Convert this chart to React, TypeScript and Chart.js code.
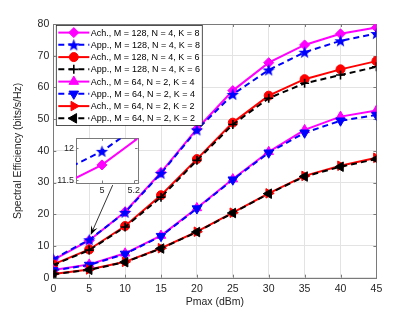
import React, { useEffect, useRef } from 'react';
import { Chart, registerables } from 'chart.js';
import { drawPoint } from 'chart.js/helpers';

Chart.register(...registerables);

// ---------------- data ----------------
const pmax = [0, 5, 10, 15, 20, 25, 30, 35, 40, 45];
const achM128K8 = [5.6, 11.74, 20.8, 33.2, 46.9, 59.0, 67.8, 73.4, 76.9, 78.9];
const appM128K8 = [5.9, 11.95, 20.6, 32.9, 46.6, 57.8, 65.5, 71.1, 74.7, 77.0];
const achM128K6 = [4.2, 8.9, 16.3, 26.0, 37.4, 48.9, 57.4, 62.6, 65.7, 68.3];
const appM128K6 = [4.0, 8.7, 16.0, 25.4, 37.0, 48.3, 56.6, 61.3, 63.9, 66.5];
const achM64K4 = [2.4, 4.2, 7.7, 13.3, 22.0, 31.1, 39.7, 46.6, 50.8, 52.7];
const appM64K4 = [2.3, 4.0, 7.5, 13.1, 21.8, 30.9, 39.4, 45.7, 49.5, 51.3];
const achM64K2 = [1.2, 2.6, 5.0, 9.3, 14.5, 20.5, 26.6, 32.1, 35.3, 37.8];
const appM64K2 = [1.1, 2.5, 4.9, 9.2, 14.4, 20.4, 26.5, 31.9, 35.0, 37.4];

const seriesLabels = [
  'Ach., M = 128, N = 4, K = 8',
  'App., M = 128, N = 4, K = 8',
  'Ach., M = 128, N = 4, K = 6',
  'App., M = 128, N = 4, K = 6',
  'Ach., M = 64, N = 2, K = 4',
  'App., M = 64, N = 2, K = 4',
  'Ach., M = 64, N = 2, K = 2',
  'App., M = 64, N = 2, K = 2',
];

const xTicks = [0, 5, 10, 15, 20, 25, 30, 35, 40, 45];
const yTicks = [0, 10, 20, 30, 40, 50, 60, 70, 80];
const insetXTicks = [5, 5.2];
const insetYTicks = [11.5, 12];
const insetXRange = [4.836, 5.225];
const insetYRange = [11.46, 12.15];
const arrowFrom = [8.27, 29.2];
const arrowTo = [5.21, 13.5];

const xTitle = 'Pmax (dBm)';
const yTitle = 'Spectral Efficiency (bits/s/Hz)';

// ---------------- styling ----------------
const FONT = '"Liberation Sans", Arial, Helvetica, sans-serif';
const TEXT = '#262626';
const GRID = '#e3e3e3';
const FRAME = '#7a7a7a';

function makeStar(r: number, color: string): HTMLCanvasElement {
  const s = Math.ceil(r * 2 + 2);
  const c = document.createElement('canvas');
  c.width = s;
  c.height = s;
  const ctx = c.getContext('2d')!;
  ctx.fillStyle = color;
  ctx.beginPath();
  for (let i = 0; i < 10; i++) {
    const rad = i % 2 === 0 ? r : r * 0.42;
    const a = -Math.PI / 2 + (i * Math.PI) / 5;
    const px = s / 2 + rad * Math.cos(a);
    const py = s / 2 + 0.6 + rad * Math.sin(a);
    if (i === 0) ctx.moveTo(px, py);
    else ctx.lineTo(px, py);
  }
  ctx.closePath();
  ctx.fill();
  return c;
}

type Style = {
  color: string;
  dash: number[];
  point: any;
  radius: number;
  rotation: number;
  pbw: number;
};

function buildStyles(): Style[] {
  const star = makeStar(6.5, '#0000ff');
  return [
    { color: '#ff00ff', dash: [], point: 'rectRot', radius: 5, rotation: 0, pbw: 1 },
    { color: '#0000ff', dash: [6, 4], point: star, radius: 6, rotation: 0, pbw: 1 },
    { color: '#ff0000', dash: [], point: 'circle', radius: 4.5, rotation: 0, pbw: 1 },
    { color: '#000000', dash: [6, 4], point: 'cross', radius: 4.5, rotation: 0, pbw: 1.6 },
    { color: '#ff00ff', dash: [], point: 'triangle', radius: 5.5, rotation: 0, pbw: 1 },
    { color: '#0000ff', dash: [6, 4], point: 'triangle', radius: 5.5, rotation: 180, pbw: 1 },
    { color: '#ff0000', dash: [], point: 'triangle', radius: 5.5, rotation: 90, pbw: 1 },
    { color: '#000000', dash: [6, 4], point: 'triangle', radius: 5.5, rotation: 270, pbw: 1 },
  ];
}

function makeDataset(label: string, ys: number[], st: Style, idx: number, clip?: number) {
  const ds: any = {
    label,
    data: pmax.map((x, i) => ({ x, y: ys[i] })),
    borderColor: st.color,
    backgroundColor: st.color,
    borderWidth: 2,
    borderDash: st.dash,
    pointStyle: st.point,
    pointRadius: st.radius,
    pointRotation: st.rotation,
    pointBorderWidth: st.pbw,
    pointBorderColor: st.color,
    pointBackgroundColor: st.color,
    tension: 0,
    fill: false,
    order: -idx,
  };
  if (clip !== undefined) ds.clip = clip;
  return ds;
}

function framePlugin(id: string, tickLen: number) {
  return {
    id,
    beforeDatasetsDraw(chart: any) {
      const { ctx, chartArea: a, scales } = chart;
      ctx.save();
      ctx.strokeStyle = FRAME;
      ctx.lineWidth = 1;
      ctx.beginPath();
      scales.x.ticks.forEach((t: any) => {
        const px = Math.round(scales.x.getPixelForValue(t.value)) + 0.5;
        ctx.moveTo(px, a.bottom);
        ctx.lineTo(px, a.bottom - tickLen);
        ctx.moveTo(px, a.top);
        ctx.lineTo(px, a.top + tickLen);
      });
      scales.y.ticks.forEach((t: any) => {
        const py = Math.round(scales.y.getPixelForValue(t.value)) + 0.5;
        ctx.moveTo(a.left, py);
        ctx.lineTo(a.left + tickLen, py);
        ctx.moveTo(a.right, py);
        ctx.lineTo(a.right - tickLen, py);
      });
      ctx.stroke();
      ctx.strokeRect(
        Math.round(a.left) + 0.5,
        Math.round(a.top) + 0.5,
        Math.round(a.right) - Math.round(a.left),
        Math.round(a.bottom) - Math.round(a.top)
      );
      ctx.restore();
    },
  };
}

function legendPlugin(styles: Style[]) {
  return {
    id: 'matlabLegend',
    afterDraw(chart: any) {
      const { ctx, chartArea: a } = chart;
      const left = a.left + 2.5;
      const top = a.top + 1;
      const w = 146;
      const rowH = 12.25;
      const h = rowH * seriesLabels.length + 2;
      ctx.save();
      ctx.fillStyle = '#ffffff';
      ctx.fillRect(left, top, w, h);
      ctx.strokeStyle = '#262626';
      ctx.lineWidth = 0.8;
      ctx.strokeRect(left + 0.5, top + 0.5, w, h);
      ctx.font = `9px ${FONT}`;
      ctx.textBaseline = 'middle';
      ctx.textAlign = 'left';
      seriesLabels.forEach((lab, i) => {
        const st = styles[i];
        const cy = top + 7.6 + i * rowH;
        const x0 = left + 2.5;
        const x1 = left + 33.5;
        ctx.strokeStyle = st.color;
        ctx.lineWidth = 2;
        ctx.setLineDash(st.dash);
        ctx.beginPath();
        ctx.moveTo(x0, cy);
        ctx.lineTo(x1, cy);
        ctx.stroke();
        ctx.setLineDash([]);
        ctx.fillStyle = st.color;
        ctx.strokeStyle = st.color;
        ctx.lineWidth = st.pbw;
        drawPoint(ctx, { pointStyle: st.point, rotation: st.rotation, radius: st.radius, borderWidth: st.pbw } as any, (x0 + x1) / 2, cy);
        ctx.fillStyle = '#000000';
        ctx.fillText(lab, x1 + 1.5, cy + 0.5);
      });
      ctx.restore();
    },
  };
}

const arrowPlugin = {
  id: 'arrow',
  afterDraw(chart: any) {
    const { ctx, scales } = chart;
    const x1 = scales.x.getPixelForValue(arrowFrom[0]);
    const y1 = scales.y.getPixelForValue(arrowFrom[1]);
    const x2 = scales.x.getPixelForValue(arrowTo[0]);
    const y2 = scales.y.getPixelForValue(arrowTo[1]);
    const ang = Math.atan2(y2 - y1, x2 - x1);
    const len = 9;
    const hw = 3.5;
    ctx.save();
    ctx.strokeStyle = '#000';
    ctx.fillStyle = '#000';
    ctx.lineWidth = 0.8;
    ctx.beginPath();
    ctx.moveTo(x1, y1);
    ctx.lineTo(x2 - Math.cos(ang) * 4, y2 - Math.sin(ang) * 4);
    ctx.stroke();
    const bx = x2 - Math.cos(ang) * len;
    const by = y2 - Math.sin(ang) * len;
    const mx = x2 - Math.cos(ang) * len * 0.6;
    const my = y2 - Math.sin(ang) * len * 0.6;
    ctx.beginPath();
    ctx.moveTo(x2, y2);
    ctx.lineTo(bx + Math.sin(ang) * hw, by - Math.cos(ang) * hw);
    ctx.lineTo(mx, my);
    ctx.lineTo(bx - Math.sin(ang) * hw, by + Math.cos(ang) * hw);
    ctx.closePath();
    ctx.fill();
    ctx.restore();
  },
};

const whiteArea = {
  id: 'whiteArea',
  beforeDraw(chart: any) {
    const { ctx, chartArea: a } = chart;
    ctx.save();
    ctx.fillStyle = '#ffffff';
    ctx.fillRect(a.left, a.top, a.right - a.left, a.bottom - a.top);
    ctx.restore();
  },
};

// inset layout
const INSET = { left: 53.7, top: 131.3, yw: 22, xh: 13, padR: 14, padT: 6, w: 61.6, h: 46 };

export default function App() {
  const mainRef = useRef<HTMLCanvasElement>(null);
  const insetRef = useRef<HTMLCanvasElement>(null);

  useEffect(() => {
    const styles = buildStyles();
    const allSeries = [achM128K8, appM128K8, achM128K6, appM128K6, achM64K4, appM64K4, achM64K2, appM64K2];

    const main = new Chart(mainRef.current!, {
      type: 'line',
      data: {
        datasets: allSeries.map((ys, i) => makeDataset(seriesLabels[i], ys, styles[i], i)),
      },
      options: {
        animation: false,
        responsive: true,
        maintainAspectRatio: false,
        devicePixelRatio: 1,
        layout: { padding: { left: 12, top: 24, right: 38.6, bottom: 4 } },
        plugins: { legend: { display: false }, tooltip: { enabled: false } },
        scales: {
          x: {
            type: 'linear',
            min: 0,
            max: 45,
            afterBuildTicks: (s: any) => { s.ticks = xTicks.map((v) => ({ value: v })); },
            afterFit: (s: any) => { s.height = 30.3; },
            ticks: { color: TEXT, font: { family: FONT, size: 10.5 }, padding: 5, maxRotation: 0, callback: (v: any) => String(v) },
            grid: { color: GRID, drawTicks: false, lineWidth: 1 },
            border: { display: false },
            title: { display: true, text: xTitle, color: TEXT, font: { family: FONT, size: 10.5 }, padding: { top: 0, bottom: 0 } },
          },
          y: {
            type: 'linear',
            min: 0,
            max: 80,
            afterBuildTicks: (s: any) => { s.ticks = yTicks.map((v) => ({ value: v })); },
            afterFit: (s: any) => { s.width = 41.3; },
            ticks: { color: TEXT, font: { family: FONT, size: 10.5 }, padding: 4, callback: (v: any) => String(v) },
            grid: { color: GRID, drawTicks: false, lineWidth: 1 },
            border: { display: false },
            title: { display: true, text: yTitle, color: TEXT, font: { family: FONT, size: 10.5 }, padding: { top: 0, bottom: 0 } },
          },
        },
      } as any,
      plugins: [framePlugin('frameMain', 3), legendPlugin(styles), arrowPlugin],
    });

    const inset = new Chart(insetRef.current!, {
      type: 'line',
      data: {
        datasets: [
          makeDataset(seriesLabels[0], achM128K8, styles[0], 0, 0),
          makeDataset(seriesLabels[1], appM128K8, styles[1], 1, 0),
        ],
      },
      options: {
        animation: false,
        responsive: true,
        maintainAspectRatio: false,
        devicePixelRatio: 1,
        layout: { padding: { left: 0, top: INSET.padT, right: INSET.padR, bottom: 0 } },
        plugins: { legend: { display: false }, tooltip: { enabled: false } },
        scales: {
          x: {
            type: 'linear',
            min: insetXRange[0],
            max: insetXRange[1],
            afterBuildTicks: (s: any) => { s.ticks = insetXTicks.map((v) => ({ value: v })); },
            afterFit: (s: any) => { s.height = INSET.xh; },
            ticks: { color: TEXT, font: { family: FONT, size: 9 }, padding: 2, maxRotation: 0, callback: (v: any) => String(v) },
            grid: { display: false, drawTicks: false },
            border: { display: false },
          },
          y: {
            type: 'linear',
            min: insetYRange[0],
            max: insetYRange[1],
            afterBuildTicks: (s: any) => { s.ticks = insetYTicks.map((v) => ({ value: v })); },
            afterFit: (s: any) => { s.width = INSET.yw; },
            ticks: { color: TEXT, font: { family: FONT, size: 9 }, padding: 2, callback: (v: any) => String(v) },
            grid: { display: false, drawTicks: false },
            border: { display: false },
          },
        },
      } as any,
      plugins: [whiteArea, framePlugin('frameInset', 2.5)],
    });

    return () => {
      main.destroy();
      inset.destroy();
    };
  }, []);

  return (
    <div style={{ position: 'fixed', left: 0, top: 0, width: 415, height: 312, background: '#ffffff' }}>
      <div style={{ position: 'absolute', left: 0, top: 0, width: 415, height: 312 }}>
        <canvas ref={mainRef} />
      </div>
      <div
        style={{
          position: 'absolute',
          left: INSET.left,
          top: INSET.top,
          width: INSET.yw + INSET.w + INSET.padR,
          height: INSET.padT + INSET.h + INSET.xh,
        }}
      >
        <canvas ref={insetRef} />
      </div>
    </div>
  );
}
